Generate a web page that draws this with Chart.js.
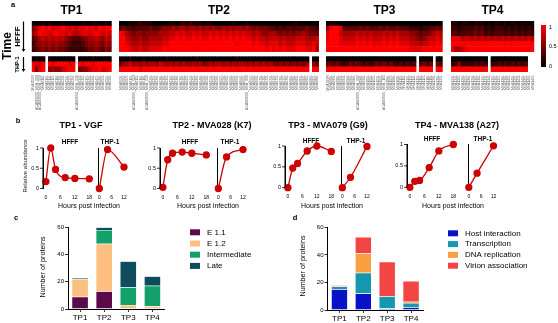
<!DOCTYPE html>
<html>
<head>
<meta charset="utf-8">
<script src="https://cdn.jsdelivr.net/npm/chart.js@4.4.1/dist/chart.umd.min.js"></script>
<style>
  body { margin: 0; background: #fff; }
  #wrap { position: relative; width: 558px; height: 323px; overflow: hidden; }
  #wrap canvas { position: absolute; }
</style>
</head>
<body>
<div id="wrap"></div>
<script>
// ---- data: panel a (heatmaps, digit = value*9, '-' = not detected) ----
var tp1Names = "MVA005R ACAM2000_MVA_008 ACAM2000_MVA_009 MVA011L MVA012L MVA014L MVA017L MVA019L MVA021L MVA023L MVA024L MVA027L MVA029L ACAM2000_MVA_031 MVA033L MVA035L MVA037L MVA040L MVA044L MVA047L MVA049L MVA052L MVA055L MVA058L".split(" ");
var tp2Names = "MVA003L MVA006L MVA007L MVA010L ACAM2000_MVA_013 MVA015L MVA016L MVA018L ACAM2000_MVA_020 MVA022L MVA025L MVA026L MVA028L MVA030L MVA032L MVA034L MVA036L MVA038L MVA039L MVA041L MVA042L MVA043L MVA045L MVA046L MVA048L MVA050L MVA051L MVA053L MVA054L MVA056L MVA057L MVA059L MVA060L MVA061L MVA062L MVA063L MVA064L MVA065L ACAM2000_MVA_066 MVA067L MVA068L MVA069L MVA070L MVA071L MVA072L MVA073L MVA074L MVA075L MVA076L MVA077L MVA078L MVA080L MVA081L MVA082L MVA083L MVA084L MVA085L MVA086L MVA087L MVA088L".split(" ");
var tp3Names = "MVA079R MVA089L MVA090L MVA091L MVA092L MVA093L MVA094L MVA095L MVA096L ACAM2000_MVA_097 MVA098L MVA099L MVA100L MVA101L MVA102L MVA103L MVA104L ACAM2000_MVA_105 MVA106L MVA107L MVA108L MVA109L MVA110L MVA111L MVA112L MVA113L MVA114L MVA115L MVA116L MVA117L MVA118L MVA119L MVA120L MVA121L MVA122L".split(" ");
var tp4Names = "MVA123L MVA124L MVA125L MVA126L MVA127L MVA128L MVA129L MVA130L MVA131L MVA132L MVA133L MVA134L MVA135L MVA136L MVA137L MVA138L MVA139L MVA140L MVA141L MVA142L MVA143L MVA144L MVA145L MVA146L MVA147L".split(" ");

// HFFF rows: 0, 2, 4, 8, 12, 18 h
var tp1Hfff = [
  "100101000100000100110010",
  "468989788987878898879899",
  "579887898878767887898787",
  "346767676754333456676576",
  "245656565543222345565465",
  "234545454432222234454354"
];
// THP-1 rows: 0, 4, 12 h
var tp1Thp = [
  "0100-10000000-0000100000",
  "9879-98999989-9899899999",
  "9589-56557899-4557889789"
];
var tp2Hfff = [
  "0001112111 0000011012 1211101100 0000100010 0000000000 0011000000",
  "3433233334 3345556566 5665656565 5656566565 4544433232 3323334332",
  "9865455455 5566677878 7787877878 7878787877 6765566545 4545565444",
  "9976556556 6667788989 8898988989 8989898988 7877677767 6667776667",
  "9987667667 7778899999 9999999999 9999989999 8988788878 7778887787",
  "9998778778 8889999999 9999999999 9999999999 9999898989 8889998896"
];
var tp2Thp = [
  "0001000100 0000100000 0001000000 0000010000 0000000000 0000000-00",
  "4567565656 6576565656 5565645656 6565656656 5656565454 5454545-54",
  "9999998999 9999999999 9999999999 9999999999 9999999999 9999999-99"
];
var tp3Hfff = [
  "0110000000 0000000000 0000000000 00000",
  "6899833333 4343334343 3433322212 23343",
  "8999766667 6767666767 6766655434 45676",
  "8999877778 7878777878 7877766545 67787",
  "9999888889 8989888989 8988877767 78898",
  "9999999999 9999999999 9999988889 99999"
];
var tp3Thp = [
  "0000000000 0000000000 0000000-00 00-00",
  "3434323434 3232343434 3232323-34 34-43",
  "9999999999 9999999999 9999999-99 99-99"
];
var tp4Hfff = [
  "1101110111 0101101011 01101",
  "2212222323 1212221212 12121",
  "3323333434 2323332323 23232",
  "8886776767 6767676767 67676",
  "9999999999 9999999999 99999",
  "8667899999 9999999999 99999"
];
var tp4Thp = [
  "0000000000 0-00000000 000--",
  "2252222323 2-22323232 323--",
  "9999999999 9-99999999 999--"
];

// ---- data: panel b (relative abundance) ----
var hfffTimes = [0, 2, 4, 8, 12, 18];
var thpTimes = [0, 4, 12];
var relTicks = [0, 0.5, 1];
var vgfHfff = [0.17, 1.0, 0.47, 0.27, 0.25, 0.24];
var vgfHfffErr = [0, 0.06, 0.02, 0.02, 0.02, 0.02];
var vgfThp = [0, 0.96, 0.53];
var k7Hfff = [0.03, 0.71, 0.87, 0.90, 0.87, 0.83];
var k7HfffErr = [0, 0.03, 0.02, 0.02, 0.02, 0.02];
var k7Thp = [0, 0.78, 0.96];
var g9Hfff = [0, 0.47, 0.58, 0.88, 1.0, 0.87];
var g9HfffErr = [0, 0.09, 0.03, 0.02, 0, 0.02];
var g9Thp = [0, 0.25, 0.99];
var g9ThpErr = [0, 0.02, 0.06];
var a27Hfff = [0, 0.14, 0.16, 0.46, 0.85, 1.0];
var a27HfffErr = [0, 0.02, 0.02, 0.02, 0.07, 0.03];
var a27Thp = [0, 0.33, 0.97];
var a27ThpErr = [0, 0.02, 0.05];

// ---- data: panels c and d (number of proteins) ----
var tpCats = ["TP1", "TP2", "TP3", "TP4"];
var e11 = [9, 13, 0, 0];
var e12 = [13, 35, 3, 2];
var intermediate = [1, 10, 13, 15];
var late = [0, 2, 19, 7];
var hostInteraction = [15, 12, 1, 2];
var transcription = [2, 15, 9, 3];
var dnaReplication = [0, 14, 0, 1];
var virionAssociation = [1, 12, 25, 15];

var FONT = "'Liberation Sans', Arial, Helvetica, sans-serif";
Chart.defaults.font.family = FONT;
Chart.defaults.color = "#000";
var W = 558, H = 323;
var RED = "#cc0000";
var wrap = document.getElementById("wrap");

// canvas placed at (x, y) on the page, w x h pixels
function newCanvas(x, y, w, h) {
  var c = document.createElement("canvas");
  c.width = w; c.height = h;
  c.style.width = w + "px"; c.style.height = h + "px";
  c.style.left = x + "px"; c.style.top = y + "px";
  wrap.appendChild(c);
  return c;
}

function baseOptions(pad) {
  return {
    responsive: false, animation: false, devicePixelRatio: 1, events: [],
    layout: { padding: pad },
    plugins: { legend: { display: false }, tooltip: { enabled: false } }
  };
}

function parseRow(s) {
  return s.replace(/\s/g, "").split("").map(function (ch) {
    return ch === "-" ? null : parseInt(ch, 10) / 9;
  });
}
function heatColor(v) {
  return "rgb(" + Math.round(255 * v) + ",0,0)";
}

function drawText(ctx, t) {
  ctx.save();
  ctx.font = (t.bold ? "bold " : "") + t.size + "px " + FONT;
  ctx.fillStyle = t.color || "#000";
  ctx.textAlign = t.align || "center";
  ctx.textBaseline = "middle";
  ctx.translate(t.x, t.y);
  if (t.rot) ctx.rotate(t.rot * Math.PI / 180);
  ctx.fillText(t.text, 0, 0);
  ctx.restore();
}

function heatmap(names, hfff, thp, x0, x1, plugins) {
  // stacked from bottom: THP-1 12h, 4h, 0h, gap, HFFF 18h ... 0h
  var rows = thp.slice().reverse().concat([null], hfff.slice().reverse());
  var datasets = rows.map(function (row) {
    var vals = row ? parseRow(row) : null;
    return {
      data: names.map(function () { return 1; }),
      backgroundColor: names.map(function (n, i) {
        return vals && vals[i] != null ? heatColor(vals[i]) : "rgba(0,0,0,0)";
      }),
      borderWidth: 0, barPercentage: 1, categoryPercentage: 1
    };
  });
  var canvas, pad;
  if (plugins) {
    canvas = newCanvas(0, 0, W, H);
    pad = { left: x0, right: W - x1, top: 21, bottom: H - 112 };
  } else {
    var cx = Math.floor(x0) - 2, cw = Math.ceil(x1) + 2 - cx;
    canvas = newCanvas(cx, 0, cw, 112);
    pad = { left: x0 - cx, right: cx + cw - x1, top: 21, bottom: 0 };
  }
  var opt = baseOptions(pad);
  opt.scales = {
    x: {
      stacked: true,
      grid: { display: false, drawTicks: false }, border: { display: false },
      ticks: { autoSkip: false, minRotation: 90, maxRotation: 90, padding: 3, color: "#555", font: { size: 3.5 } },
      afterFit: function (s) { s.height = 40; s.paddingLeft = 0; s.paddingRight = 0; }
    },
    y: { stacked: true, display: false, min: 0, max: 10 }
  };
  return new Chart(canvas, {
    type: "bar",
    data: { labels: names, datasets: datasets },
    options: opt,
    plugins: plugins || []
  });
}

var errBars = {
  id: "errBars",
  beforeDatasetsDraw: function (chart) {
    var ds = chart.data.datasets[0];
    if (!ds.err) return;
    var xs = chart.scales.x, ys = chart.scales.y, ctx = chart.ctx;
    ctx.save();
    ctx.strokeStyle = "#8a3030";
    ctx.lineWidth = 0.8;
    ds.data.forEach(function (p, i) {
      var e = ds.err[i];
      if (!e) return;
      var x = xs.getPixelForValue(p.x);
      var ya = ys.getPixelForValue(p.y + e), yb = ys.getPixelForValue(p.y - e);
      ctx.beginPath();
      ctx.moveTo(x, ya); ctx.lineTo(x, yb);
      ctx.stroke();
    });
    ctx.restore();
  }
};

function lineChart(cfg) {
  var pts = cfg.times.map(function (t, i) { return { x: t, y: cfg.vals[i] }; });
  var cx = Math.floor(cfg.left - 24) - 2, cy = Math.floor(cfg.top) - 7;
  var cw = Math.ceil(cfg.right) + 6 - cx, ch = Math.ceil(cfg.bottom + 12) + 3 - cy;
  var opt = baseOptions({
    left: cfg.left - 24 - cx, right: cx + cw - cfg.right,
    top: cfg.top - cy, bottom: cy + ch - (cfg.bottom + 12)
  });
  opt.scales = {
    x: {
      type: "linear", min: cfg.xmin, max: cfg.xmax,
      afterBuildTicks: function (s) { s.ticks = cfg.xticks.map(function (v) { return { value: v }; }); },
      grid: { display: false, drawTicks: false }, border: { display: false },
      ticks: { font: { size: 5 }, padding: 6, maxRotation: 0 },
      afterFit: function (s) { s.height = 12; s.paddingLeft = 0; s.paddingRight = 0; }
    },
    y: {
      type: "linear", position: "left", min: 0, max: 1,
      afterBuildTicks: function (s) { s.ticks = relTicks.map(function (v) { return { value: v }; }); },
      grid: { display: false },
      border: { display: true, color: "#000", width: 1 },
      ticks: { display: false },
      afterFit: function (s) { s.width = 24; s.paddingTop = 0; s.paddingBottom = 0; }
    }
  };
  return new Chart(newCanvas(cx, cy, cw, ch), {
    type: "line",
    data: { datasets: [{
      data: pts, err: cfg.errs,
      borderColor: RED, backgroundColor: RED,
      pointRadius: 3, borderWidth: 1.3, cubicInterpolationMode: "monotone", clip: false
    }] },
    options: opt,
    plugins: [errBars]
  });
}

var boxLegend = {
  id: "boxLegend",
  afterDraw: function (chart) {
    var lg = chart.config.options.boxLegendPos;
    var ctx = chart.ctx;
    chart.data.datasets.forEach(function (ds, i) {
      var y = lg.y + i * lg.step;
      ctx.fillStyle = ds.backgroundColor;
      ctx.fillRect(lg.x, y - 3, 10, 6);
      drawText(ctx, { text: ds.label, x: lg.x + 17, y: y, size: 8, align: "left" });
    });
  }
};

function stackChart(series, labels, colors, left, right, top, bottom, legendPos, canvasRight) {
  var datasets = series.map(function (d, i) {
    return {
      label: labels[i], data: d, backgroundColor: colors[i],
      borderColor: "rgba(255,255,255,0.7)", borderWidth: 0.5,
      barPercentage: 0.69, categoryPercentage: 1
    };
  });
  var cx = Math.floor(left - 20) - 2, cy = Math.floor(top) - 6;
  var cw = canvasRight - cx, ch = Math.ceil(bottom + 14) + 2 - cy;
  var opt = baseOptions({
    left: left - 20 - cx, right: cx + cw - right,
    top: top - cy, bottom: cy + ch - (bottom + 14)
  });
  opt.boxLegendPos = { x: legendPos.x - cx, y: legendPos.y - cy, step: legendPos.step };
  opt.scales = {
    x: {
      stacked: true,
      grid: { display: true, drawOnChartArea: false, tickLength: 3, offset: false, color: "#000", lineWidth: 0.8 },
      border: { display: true, color: "#000", width: 1 },
      ticks: { font: { size: 8 }, padding: 1 },
      afterFit: function (s) { s.height = 14; s.paddingLeft = 0; s.paddingRight = 0; }
    },
    y: {
      stacked: true, min: 0, max: 60,
      ticks: { stepSize: 20, font: { size: 6 }, padding: 1 },
      grid: { display: true, drawOnChartArea: false, tickLength: 3, color: "#000", lineWidth: 0.8 },
      border: { display: true, color: "#000", width: 1 },
      afterFit: function (s) { s.width = 20; s.paddingTop = 0; s.paddingBottom = 0; }
    }
  };
  return new Chart(newCanvas(cx, cy, cw, ch), {
    type: "bar",
    data: { labels: tpCats, datasets: datasets },
    options: opt,
    plugins: [boxLegend]
  });
}

// ---- page-level text and marks (drawn on the bottom, full-page canvas) ----
var pageTexts = [
  { text: "a", x: 13, y: 5, size: 7.5, bold: true },
  { text: "TP1", x: 71.5, y: 11, size: 12, bold: true },
  { text: "TP2", x: 219, y: 11, size: 12, bold: true },
  { text: "TP3", x: 384.5, y: 11, size: 12, bold: true },
  { text: "TP4", x: 492.5, y: 11, size: 12, bold: true },
  { text: "Time", x: 8, y: 46, size: 12, bold: true, rot: -90 },
  { text: "HFFF", x: 17.5, y: 36.5, size: 8, bold: true, rot: -90 },
  { text: "THP-1", x: 17.5, y: 64.5, size: 5.5, bold: true, rot: -90 },
  { text: "1", x: 549, y: 27, size: 5.5, align: "left" },
  { text: "0.5", x: 549, y: 46.5, size: 5.5, align: "left" },
  { text: "0", x: 549, y: 66, size: 5.5, align: "left" },
  { text: "b", x: 18, y: 121, size: 7.5, bold: true },
  { text: "TP1 - VGF", x: 81, y: 126, size: 9, bold: true },
  { text: "TP2 - MVA028 (K7)", x: 212, y: 126, size: 9, bold: true },
  { text: "TP3 - MVA079 (G9)", x: 328, y: 126, size: 9, bold: true },
  { text: "TP4 - MVA138 (A27)", x: 457, y: 126, size: 9, bold: true },
  { text: "HFFF", x: 70, y: 142, size: 6.5, bold: true },
  { text: "THP-1", x: 110, y: 142, size: 6.5, bold: true },
  { text: "HFFF", x: 190, y: 142, size: 6.5, bold: true },
  { text: "THP-1", x: 230, y: 142, size: 6.5, bold: true },
  { text: "HFFF", x: 311, y: 141, size: 6.5, bold: true },
  { text: "THP-1", x: 356, y: 141, size: 6.5, bold: true },
  { text: "HFFF", x: 432, y: 139.5, size: 6.5, bold: true },
  { text: "THP-1", x: 483, y: 139.5, size: 6.5, bold: true },
  { text: "Relative abundance", x: 25.5, y: 166, size: 6, rot: -90, color: "#222" },
  { text: "Hours post infection", x: 89, y: 206, size: 7 },
  { text: "Hours post infection", x: 208, y: 206, size: 7 },
  { text: "Hours post infection", x: 332, y: 206, size: 7 },
  { text: "Hours post infection", x: 453, y: 206, size: 7 },
  { text: "c", x: 16, y: 218, size: 7.5, bold: true },
  { text: "d", x: 295, y: 218, size: 7.5, bold: true },
  { text: "Number of proteins", x: 42.7, y: 267, size: 7.2, rot: -90 },
  { text: "Number of proteins", x: 303, y: 266, size: 7.2, rot: -90 }
];

function arrow(ctx, x, ya, yb) {
  ctx.beginPath();
  ctx.moveTo(x, ya); ctx.lineTo(x, yb - 2.5);
  ctx.stroke();
  ctx.beginPath();
  ctx.moveTo(x - 1.8, yb - 3); ctx.lineTo(x + 1.8, yb - 3); ctx.lineTo(x, yb);
  ctx.closePath(); ctx.fill();
}

var pageDeco = {
  id: "pageDeco",
  afterDraw: function (chart) {
    var ctx = chart.ctx;
    ctx.save();
    ctx.strokeStyle = "#000"; ctx.fillStyle = "#000"; ctx.lineWidth = 1.2;
    arrow(ctx, 23.5, 21.5, 52);
    arrow(ctx, 23.5, 57, 72);
    // colour bar
    var g = ctx.createLinearGradient(0, 25, 0, 67);
    g.addColorStop(0, heatColor(1));
    g.addColorStop(1, heatColor(0));
    ctx.fillStyle = g;
    ctx.fillRect(541, 25, 5, 42);
    ctx.restore();
    pageTexts.forEach(function (t) { drawText(ctx, t); });
  }
};

heatmap(tp1Names, tp1Hfff, tp1Thp, 31.7, 111.7, [pageDeco]);
heatmap(tp2Names, tp2Hfff, tp2Thp, 119, 319);
heatmap(tp3Names, tp3Hfff, tp3Thp, 326, 442.7);
heatmap(tp4Names, tp4Hfff, tp4Thp, 451, 534.3);

var groups = [
  { hx: 43, tx: 98.5, y1: 148, y0: 188.5, h: vgfHfff, he: vgfHfffErr, t: vgfThp, te: null },
  { hx: 160, tx: 217.5, y1: 148, y0: 188.5, h: k7Hfff, he: k7HfffErr, t: k7Thp, te: null },
  { hx: 285, tx: 341.5, y1: 146, y0: 187.7, h: g9Hfff, he: g9HfffErr, t: g9Thp, te: g9ThpErr },
  { hx: 407, tx: 468, y1: 144.5, y0: 187.3, h: a27Hfff, he: a27HfffErr, t: a27Thp, te: a27ThpErr }
];
var hfffCharts = [];
groups.forEach(function (g) {
  hfffCharts.push(lineChart({ times: hfffTimes, vals: g.h, errs: g.he, xmin: -1.2, xmax: 18, xticks: [0, 6, 12, 18],
    left: g.hx, right: g.hx + 46.3, top: g.y1, bottom: g.y0 }));
  lineChart({ times: thpTimes, vals: g.t, errs: g.te, xmin: -0.4, xmax: 12, xticks: [0, 6, 12],
    left: g.tx, right: g.tx + 25.5, top: g.y1, bottom: g.y0 });
});

stackChart([e11, e12, intermediate, late], ["E 1.1", "E 1.2", "Intermediate", "Late"],
  ["#5c0a4c", "#fdbf80", "#14a06a", "#0f4c5e"], 68, 164.5, 227.3, 309,
  { x: 190, y: 232.3, step: 11.2 }, 280);
stackChart([hostInteraction, transcription, dnaReplication, virionAssociation],
  ["Host interaction", "Transcription", "DNA replication", "Virion association"],
  ["#0a12c8", "#1597b0", "#fba040", "#f44545"], 327.5, 423, 227.3, 310,
  { x: 448, y: 233.3, step: 10.8 }, 558);

// y axis, tick marks and tick labels of each HFFF plot, taken from that chart's own y scale
var axisOverlay = {
  id: "axisOverlay",
  afterDraw: function (chart) {
    var ctx = chart.ctx;
    ctx.save();
    ctx.strokeStyle = "#000";
    hfffCharts.forEach(function (c) {
      var ox = parseFloat(c.canvas.style.left), oy = parseFloat(c.canvas.style.top);
      var ys = c.scales.y, left = ox + c.chartArea.left;
      ctx.lineWidth = 1;
      ctx.beginPath();
      ctx.moveTo(left, oy + ys.getPixelForValue(1));
      ctx.lineTo(left, oy + ys.getPixelForValue(0));
      ctx.stroke();
      ctx.lineWidth = 0.8;
      relTicks.forEach(function (v) {
        var y = oy + ys.getPixelForValue(v);
        ctx.beginPath();
        ctx.moveTo(left - 3, y); ctx.lineTo(left, y);
        ctx.stroke();
        drawText(ctx, { text: String(v), x: left - 4, y: y, size: 5.5, align: "right" });
      });
    });
    ctx.restore();
  }
};
var overlayOpt = baseOptions(0);
overlayOpt.scales = { x: { display: false }, y: { display: false } };
new Chart(newCanvas(0, 0, W, H), {
  type: "bar",
  data: { labels: [], datasets: [] },
  options: overlayOpt,
  plugins: [axisOverlay]
});
</script>
</body>
</html>
